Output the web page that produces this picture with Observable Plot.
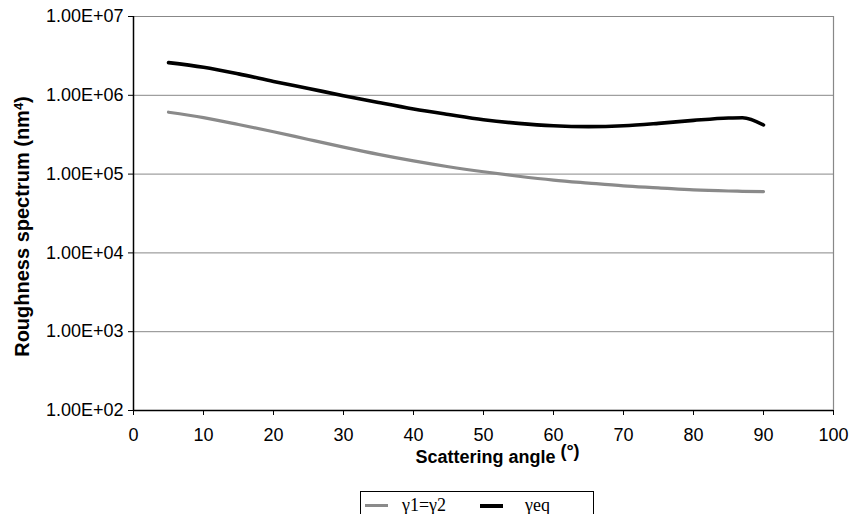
<!DOCTYPE html>
<html>
<head>
<meta charset="utf-8">
<script src="https://cdn.jsdelivr.net/npm/d3@7"></script>
<script src="https://cdn.jsdelivr.net/npm/@observablehq/plot@0.6"></script>
<style>
  body { margin: 0; background: #fff; }
  #chart { position: relative; width: 850px; height: 514px; overflow: hidden; }
  .legend { position: absolute; left: 360px; top: 491px; width: 234px; height: 40px;
    border: 1px solid #000; box-sizing: border-box; font-family: "Liberation Serif", "DejaVu Serif", serif;
    font-size: 18px; }
  .legend .item { position: absolute; top: 3px; display: flex; align-items: center; }
  .legend .swatch { display: inline-block; width: 23px; }
</style>
</head>
<body>
<div id="chart"></div>
<script>
// Data
const angles   = [5, 10, 15, 20, 25, 30, 35, 40, 45, 50, 55, 60, 65, 70, 75, 80, 85, 87, 90];
const gamma12  = [6.1e5, 5.2e5, 4.26e5, 3.45e5, 2.75e5, 2.2e5, 1.78e5, 1.47e5, 1.24e5, 1.07e5, 9.4e4, 8.4e4, 7.7e4, 7.1e4, 6.7e4, 6.3e4, 6.1e4, 6.05e4, 6.0e4];
const gammaEq  = [2.6e6, 2.27e6, 1.87e6, 1.5e6, 1.22e6, 9.9e5, 8.1e5, 6.7e5, 5.7e5, 4.9e5, 4.4e5, 4.1e5, 4.0e5, 4.1e5, 4.4e5, 4.8e5, 5.15e5, 5.2e5, 4.2e5];
const seriesNames = ["γ1=γ2", "γeq"];
const yTicks = [1e2, 1e3, 1e4, 1e5, 1e6, 1e7];
const yTickLabels = ["1.00E+02", "1.00E+03", "1.00E+04", "1.00E+05", "1.00E+06", "1.00E+07"];
const xTicks = [0, 10, 20, 30, 40, 50, 60, 70, 80, 90, 100];

const rows = [];
angles.forEach((a, i) => {
  rows.push({angle: a, value: gamma12[i], series: seriesNames[0]});
  rows.push({angle: a, value: gammaEq[i], series: seriesNames[1]});
});

const plot = Plot.plot({
  width: 850,
  height: 480,
  marginLeft: 133,
  marginRight: 17,
  marginTop: 16,
  marginBottom: 70,
  style: {fontFamily: "'Liberation Sans', Arial, sans-serif", fontSize: "18px", color: "#000", background: "#fff"},
  x: {domain: [0, 100]},
  y: {type: "log", domain: [1e2, 1e7]},
  marks: [
    Plot.gridY(yTicks, {stroke: "#888", strokeOpacity: 1, strokeWidth: 1}),
    Plot.ruleX([100], {stroke: "#888", strokeWidth: 1.2}),
    Plot.axisY(yTicks, {
      tickSize: 5, tickPadding: 5, fontSize: 18,
      tickFormat: d => yTickLabels[yTicks.indexOf(d)],
      label: "Roughness spectrum (nm4)", labelAnchor: "center", labelArrow: "none", labelOffset: 119
    }),
    Plot.axisX(xTicks, {
      tickSize: 5, tickPadding: 13, fontSize: 18,
      label: "Scattering angle (°)", labelAnchor: "center", labelArrow: "none", labelOffset: 52
    }),
    Plot.ruleX([0], {stroke: "#000", strokeWidth: 1.5}),
    Plot.ruleY([1e2], {stroke: "#000", strokeWidth: 1.5}),
    Plot.line(rows.filter(d => d.series === seriesNames[0]), {x: "angle", y: "value", stroke: "#8a8a8a", strokeWidth: 3.2, curve: "monotone-x"}),
    Plot.line(rows.filter(d => d.series === seriesNames[1]), {x: "angle", y: "value", stroke: "#000", strokeWidth: 3.6, curve: "monotone-x"})
  ]
});
const svg = d3.select(plot);
svg.selectAll("[aria-label='y-axis label'] text, [aria-label='x-axis label'] text").style("font-weight", "bold");
// superscript 4 in y label, raised parentheses around degree sign in x label
svg.selectAll("[aria-label='y-axis label'] text").style("font-size", "20px").attr("dx", -13).each(function() {
  const t = d3.select(this);
  t.text("");
  t.append("tspan").text("Roughness spectrum (nm");
  t.append("tspan").attr("dy", "-0.45em").style("font-size", "13px").text("4");
  t.append("tspan").attr("dy", "0.3em").text(")");
});
svg.selectAll("[aria-label='x-axis label'] text").attr("dx", 14).each(function() {
  const t = d3.select(this);
  t.text("");
  t.append("tspan").text("Scattering angle ");
  t.append("tspan").attr("dy", "-0.3em").text("(°)");
});
document.getElementById("chart").appendChild(plot);

const legend = document.createElement("div");
legend.className = "legend";
legend.innerHTML =
  `<div class="item" style="left:4px"><span class="swatch" style="border-top:3px solid #8a8a8a;margin-right:14px"></span>${seriesNames[0]}</div>` +
  `<div class="item" style="left:119px"><span class="swatch" style="border-top:4px solid #000;margin-right:22px"></span>${seriesNames[1]}</div>`;
document.getElementById("chart").appendChild(legend);
</script>
</body>
</html>
